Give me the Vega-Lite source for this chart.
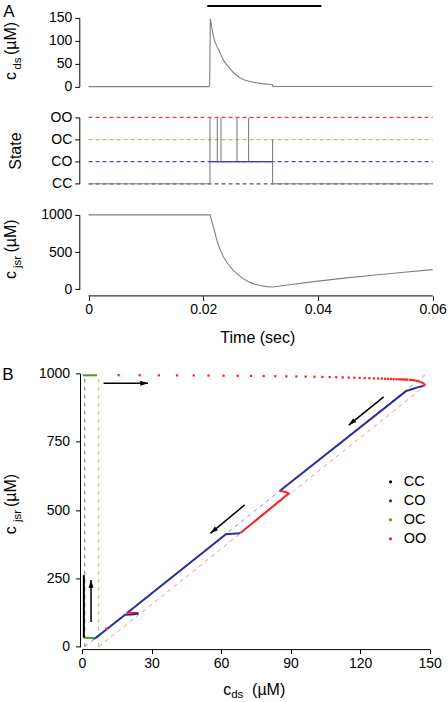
{
"$schema": "https://vega.github.io/schema/vega-lite/v6.json",
"background": "white",
"padding": {"left": 2, "top": 1.9, "right": 0, "bottom": 0},
"config": {
  "font": "Liberation Sans",
  "view": {"stroke": null},
  "axis": {"labelFont": "Liberation Sans", "labelFontSize": 14, "labelColor": "#000", "domainColor": "#000", "tickColor": "#000", "tickSize": 4.5, "grid": false, "labelFlush": false, "labelOverlap": false, "titleFont": "Liberation Sans", "titleFontWeight": "normal", "titleFontSize": 16, "titleColor": "#000", "labelPadding": 3},
  "text": {"font": "Liberation Sans", "color": "#000"}
},
"bounds": "full",
"spacing": 19.5,
"resolve": {"scale": {"x": "independent", "y": "independent", "color": "independent"}},
"vconcat": [
 {
  "bounds": "flush",
  "spacing": 30.5,
  "resolve": {"scale": {"x": "independent", "y": "independent", "color": "independent"}},
  "vconcat": [
   {
    "width": 350.6, "height": 68.7,
    "layer": [
     {"data": {"values": [
       {"t":0,"v":0},{"t":0.021,"v":0},{"t":0.02112,"v":3},{"t":0.02123,"v":148},{"t":0.0214,"v":135},{"t":0.02158,"v":122},{"t":0.0218,"v":108},{"t":0.0221,"v":96},{"t":0.02245,"v":86},{"t":0.0228,"v":77},{"t":0.02297,"v":72},{"t":0.0233,"v":63},{"t":0.02367,"v":55},{"t":0.024,"v":49},{"t":0.02437,"v":43},{"t":0.0247,"v":38},{"t":0.02506,"v":33},{"t":0.0255,"v":28},{"t":0.02588,"v":23.5},{"t":0.0261,"v":22.5},{"t":0.0263,"v":20},{"t":0.02663,"v":17.5},{"t":0.027,"v":15.5},{"t":0.02733,"v":14},{"t":0.028,"v":11.5},{"t":0.02873,"v":9.5},{"t":0.0295,"v":8},{"t":0.0303,"v":6.5},{"t":0.031,"v":5.5},{"t":0.0317,"v":5},{"t":0.03204,"v":4.5},{"t":0.03213,"v":0.5},{"t":0.035,"v":0.3},{"t":0.06,"v":0.3}
      ]},
      "mark": {"type": "line", "color": "#7f7f7f", "strokeWidth": 1.1},
      "encoding": {
       "x": {"field": "t", "type": "quantitative", "scale": {"domain": [-0.00115, 0.06], "nice": false, "zero": false}, "axis": null},
       "y": {"field": "v", "type": "quantitative", "scale": {"domain": [0, 150], "nice": false}, "axis": {"values": [0, 50, 100, 150], "tickCount": 10, "offset": 2.7, "title": null, "labelOverlap": false}}
      }},
     {"data": {"values": [{"t1": 0.0207, "t2": 0.0406}]},
      "mark": {"type": "rule", "color": "#000", "strokeWidth": 2},
      "encoding": {"x": {"field": "t1", "type": "quantitative"}, "x2": {"field": "t2"}, "y": {"datum": 176, "type": "quantitative"}}},
     {"data": {"values": [{}]}, "mark": {"type": "text", "text": "A", "fontSize": 17, "align": "left", "baseline": "alphabetic"},
      "encoding": {"x": {"datum": -0.01488, "type": "quantitative"}, "y": {"datum": 152.8, "type": "quantitative"}}},
     {"data": {"values": [{}]}, "mark": {"type": "text", "text": "c", "fontSize": 16, "angle": 270, "align": "left", "baseline": "alphabetic"},
      "encoding": {"x": {"datum": -0.01261, "type": "quantitative"}, "y": {"datum": 14.2, "type": "quantitative"}}},
     {"data": {"values": [{}]}, "mark": {"type": "text", "text": "ds", "fontSize": 11.5, "angle": 270, "align": "left", "baseline": "alphabetic"},
      "encoding": {"x": {"datum": -0.01183, "type": "quantitative"}, "y": {"datum": 37.1, "type": "quantitative"}}},
     {"data": {"values": [{}]}, "mark": {"type": "text", "text": "(µM)", "fontSize": 16, "angle": 270, "align": "left", "baseline": "alphabetic"},
      "encoding": {"x": {"datum": -0.01261, "type": "quantitative"}, "y": {"datum": 68.8, "type": "quantitative"}}}
    ]
   },
   {
    "width": 350.6, "height": 66.4,
    "layer": [
     {"data": {"values": [{"state": "CC", "s": 0, "t1": 0, "t2": 0.06}, {"state": "CO", "s": 1, "t1": 0, "t2": 0.06}, {"state": "OC", "s": 2, "t1": 0, "t2": 0.06}, {"state": "OO", "s": 3, "t1": 0, "t2": 0.06}]},
      "mark": {"type": "rule", "strokeDash": [4, 3], "strokeWidth": 1.2, "opacity": 1},
      "encoding": {
       "x": {"field": "t1", "type": "quantitative", "scale": {"domain": [-0.00115, 0.06], "nice": false, "zero": false}, "axis": null},
       "x2": {"field": "t2"},
       "y": {"field": "s", "type": "quantitative", "scale": {"domain": [0, 3], "nice": false}, "axis": {"values": [0, 1, 2, 3], "tickCount": 10, "labelExpr": "['CC','CO','OC','OO'][datum.value]", "offset": 2.7, "title": "State", "titlePadding": 27, "labelOverlap": false}},
       "color": {"field": "state", "type": "nominal", "scale": {"domain": ["CC", "CO", "OC", "OO"], "range": ["#555555", "#4a4ad0", "#9bd163", "#e8423c"]}, "legend": null}
      }},
     {"data": {"values": [
       {"o":1,"t":0,"s":0},{"o":2,"t":0.02117,"s":0},{"o":3,"t":0.02117,"s":3},{"o":4,"t":0.02117,"s":1},{"o":5,"t":0.02245,"s":1},{"o":6,"t":0.02245,"s":3},{"o":7,"t":0.02245,"s":1},{"o":8,"t":0.02309,"s":1},{"o":9,"t":0.02309,"s":3},{"o":10,"t":0.02309,"s":1},{"o":11,"t":0.02588,"s":1},{"o":12,"t":0.02588,"s":3},{"o":13,"t":0.02588,"s":1},{"o":14,"t":0.02791,"s":1},{"o":15,"t":0.02791,"s":3},{"o":16,"t":0.02791,"s":1},{"o":17,"t":0.03209,"s":1},{"o":18,"t":0.03209,"s":2},{"o":19,"t":0.03209,"s":0},{"o":20,"t":0.06,"s":0}
      ]},
      "mark": {"type": "line", "color": "#808080", "strokeWidth": 1.1},
      "encoding": {
       "x": {"field": "t", "type": "quantitative"},
       "y": {"field": "s", "type": "quantitative"},
       "order": {"field": "o", "type": "quantitative"}
      }},
     {"data": {"values": [{"t1": 0.02117, "t2": 0.03209}]},
      "mark": {"type": "rule", "color": "#4040c4", "strokeWidth": 1.3},
      "encoding": {"x": {"field": "t1", "type": "quantitative"}, "x2": {"field": "t2"}, "y": {"datum": 1, "type": "quantitative"}}}
    ]
   },
   {
    "width": 350.6, "height": 74.4,
    "layer": [
     {"data": {"values": [
       {"t":0,"v":1000},{"t":0.02118,"v":1000},{"t":0.0214,"v":940},{"t":0.0216,"v":880},{"t":0.0218,"v":830},{"t":0.0221,"v":740},{"t":0.0224,"v":654},{"t":0.0228,"v":560},{"t":0.02355,"v":430},{"t":0.0244,"v":330},{"t":0.0253,"v":251},{"t":0.0262,"v":190},{"t":0.02703,"v":140},{"t":0.0279,"v":103},{"t":0.02878,"v":73},{"t":0.0299,"v":50},{"t":0.03112,"v":36},{"t":0.0321,"v":30},{"t":0.035,"v":62},{"t":0.04,"v":110},{"t":0.045,"v":153},{"t":0.05,"v":193},{"t":0.055,"v":230},{"t":0.06,"v":265}
      ]},
      "mark": {"type": "line", "color": "#7f7f7f", "strokeWidth": 1.1},
      "encoding": {
       "x": {"field": "t", "type": "quantitative", "scale": {"domain": [-0.00115, 0.06], "nice": false, "zero": false}, "axis": {"values": [0, 0.02, 0.04, 0.06], "tickCount": 10, "labelExpr": "datum.value == 0 ? '0' : format(datum.value, '.2f')", "offset": 6.6, "domain": false, "labelPadding": 2, "title": "Time (sec)", "titlePadding": 13}},
       "y": {"field": "v", "type": "quantitative", "scale": {"domain": [0, 1000], "nice": false}, "axis": {"values": [0, 500, 1000], "tickCount": 10, "labelExpr": "format(datum.value, 'd')", "offset": 2.7, "title": null, "labelOverlap": false}}
      }},
     {"data": {"values": [{"t1": 0, "t2": 0.06}]},
      "mark": {"type": "rule", "color": "#000", "strokeWidth": 1},
      "encoding": {"x": {"field": "t1", "type": "quantitative"}, "x2": {"field": "t2"}, "y": {"datum": -88.7, "type": "quantitative"}}},
     {"data": {"values": [{}]}, "mark": {"type": "text", "text": "c", "fontSize": 16, "angle": 270, "align": "left", "baseline": "alphabetic"},
      "encoding": {"x": {"datum": -0.01261, "type": "quantitative"}, "y": {"datum": 137, "type": "quantitative"}}},
     {"data": {"values": [{}]}, "mark": {"type": "text", "text": "jsr", "fontSize": 11.5, "angle": 270, "align": "left", "baseline": "alphabetic"},
      "encoding": {"x": {"datum": -0.01183, "type": "quantitative"}, "y": {"datum": 285, "type": "quantitative"}}},
     {"data": {"values": [{}]}, "mark": {"type": "text", "text": "(µM)", "fontSize": 16, "angle": 270, "align": "left", "baseline": "alphabetic"},
      "encoding": {"x": {"datum": -0.01261, "type": "quantitative"}, "y": {"datum": 493, "type": "quantitative"}}}
    ]
   }
  ]
 },
 {
  "width": 347.6, "height": 273.4,
  "resolve": {"scale": {"color": "independent"}},
  "layer": [
   {"data": {"values": [
     {"ref":"CC","cds":1.2,"cjsr":0},{"ref":"CC","cds":1.2,"cjsr":990},
     {"ref":"OC","cds":7.2,"cjsr":0},{"ref":"OC","cds":7.2,"cjsr":990},
     {"ref":"CO","cds":1.2,"cjsr":0},{"ref":"CO","cds":147.9,"cjsr":994},
     {"ref":"OO","cds":7.2,"cjsr":0},{"ref":"OO","cds":150.3,"cjsr":970}
    ]},
    "mark": {"type": "line", "strokeDash": [4, 4], "strokeWidth": 1},
    "encoding": {
     "x": {"field": "cds", "type": "quantitative", "scale": {"domain": [0, 150], "nice": false, "zero": false}, "axis": {"values": [0, 30, 60, 90, 120, 150], "tickCount": 10, "offset": 2.3, "title": null, "labelOverlap": false}},
     "y": {"field": "cjsr", "type": "quantitative", "scale": {"domain": [0, 1000], "nice": false}, "axis": {"values": [0, 250, 500, 750, 1000], "tickCount": 10, "labelExpr": "format(datum.value, 'd')", "offset": 2, "title": null, "labelPadding": 6, "labelOverlap": false}},
     "detail": {"field": "ref"},
     "color": {"field": "ref", "type": "nominal", "scale": {"domain": ["CC", "CO", "OC", "OO"], "range": ["#777777", "#8c8cea", "#9fd06c", "#f39090"]}, "legend": null}
    }},
   {"data": {"values": [
     {"seg":1,"o":1,"state":"OC","cds":0.3,"cjsr":993},{"seg":1,"o":2,"state":"OC","cds":6.5,"cjsr":993},
     {"seg":2,"o":1,"state":"OO","cds":140.9,"cjsr":977},{"seg":2,"o":2,"state":"OO","cds":142.6,"cjsr":975.5},{"seg":2,"o":3,"state":"OO","cds":144.4,"cjsr":973},{"seg":2,"o":4,"state":"OO","cds":146.1,"cjsr":969},{"seg":2,"o":5,"state":"OO","cds":147.3,"cjsr":964},{"seg":2,"o":6,"state":"OO","cds":147.8,"cjsr":958.5},{"seg":2,"o":7,"state":"OO","cds":147.2,"cjsr":954},
     {"seg":3,"o":1,"state":"CO","cds":147.2,"cjsr":954},{"seg":3,"o":2,"state":"CO","cds":144.8,"cjsr":949},{"seg":3,"o":3,"state":"CO","cds":142.3,"cjsr":942},{"seg":3,"o":4,"state":"CO","cds":139.8,"cjsr":935},{"seg":3,"o":5,"state":"CO","cds":85.3,"cjsr":570},
     {"seg":4,"o":1,"state":"OO","cds":85.3,"cjsr":570},{"seg":4,"o":2,"state":"OO","cds":87.6,"cjsr":567},{"seg":4,"o":3,"state":"OO","cds":89.2,"cjsr":561},{"seg":4,"o":4,"state":"OO","cds":68.2,"cjsr":415},
     {"seg":5,"o":1,"state":"CO","cds":68.2,"cjsr":415},{"seg":5,"o":2,"state":"CO","cds":65,"cjsr":413.5},{"seg":5,"o":3,"state":"CO","cds":62.1,"cjsr":412},{"seg":5,"o":4,"state":"CO","cds":19.3,"cjsr":123},
     {"seg":6,"o":1,"state":"OO","cds":19.3,"cjsr":124.5},{"seg":6,"o":2,"state":"OO","cds":24,"cjsr":123.5},{"seg":6,"o":3,"state":"OO","cds":24.3,"cjsr":120.5},
     {"seg":7,"o":1,"state":"CO","cds":24.3,"cjsr":120.5},{"seg":7,"o":2,"state":"CO","cds":21.5,"cjsr":118.5},{"seg":7,"o":3,"state":"CO","cds":18.6,"cjsr":117},{"seg":7,"o":4,"state":"CO","cds":10.4,"cjsr":62.5},
     {"seg":8,"o":1,"state":"OO","cds":10,"cjsr":66.5},{"seg":8,"o":2,"state":"OO","cds":11.2,"cjsr":65.5},
     {"seg":9,"o":1,"state":"CO","cds":10.4,"cjsr":62.5},{"seg":9,"o":2,"state":"CO","cds":5.7,"cjsr":31},{"seg":9,"o":3,"state":"CO","cds":4.6,"cjsr":30},
     {"seg":10,"o":1,"state":"OC","cds":5.4,"cjsr":32},{"seg":10,"o":2,"state":"OC","cds":0.8,"cjsr":33.5},
     {"seg":11,"o":1,"state":"CC","cds":0.8,"cjsr":33.5},{"seg":11,"o":2,"state":"CC","cds":0.8,"cjsr":262}
    ]},
    "mark": {"type": "line", "strokeWidth": 2},
    "encoding": {
     "x": {"field": "cds", "type": "quantitative"},
     "y": {"field": "cjsr", "type": "quantitative"},
     "detail": {"field": "seg"},
     "order": {"field": "o", "type": "quantitative"},
     "color": {"field": "state", "type": "nominal", "scale": {"domain": ["CC", "CO", "OC", "OO"], "range": ["#000000", "#2b2b9e", "#4c9a2a", "#ff1f1f"]},
      "legend": {"title": null, "orient": "none", "legendX": 301.3, "legendY": 101.2, "symbolType": "circle", "symbolSize": 3, "symbolStrokeWidth": 1.5, "labelFontSize": 14.5, "labelFont": "Liberation Sans", "labelColor": "#000", "labelOffset": 6, "rowPadding": 4, "padding": 0}}
    }},
   {"data": {"values": [
     {"cds":15.8,"cjsr":993.5},{"cds":24.9,"cjsr":993.3},{"cds":33.2,"cjsr":993},{"cds":41,"cjsr":992.7},{"cds":48.2,"cjsr":992.4},{"cds":54.6,"cjsr":992},{"cds":61.1,"cjsr":991.6},{"cds":67.2,"cjsr":991.2},{"cds":72.9,"cjsr":990.8},{"cds":78.4,"cjsr":990.3},{"cds":83.4,"cjsr":989.8},{"cds":88.2,"cjsr":989.3},{"cds":92.5,"cjsr":988.8},{"cds":96.5,"cjsr":988.3},{"cds":100.3,"cjsr":987.7},{"cds":103.7,"cjsr":987.1},{"cds":106.9,"cjsr":986.6},{"cds":109.7,"cjsr":986},{"cds":112.5,"cjsr":985.4},{"cds":115.1,"cjsr":984.8},{"cds":117.5,"cjsr":984.2},{"cds":119.8,"cjsr":983.6},{"cds":122,"cjsr":983},{"cds":124,"cjsr":982.4},{"cds":126,"cjsr":981.8},{"cds":127.8,"cjsr":981.3},{"cds":129.4,"cjsr":980.8},{"cds":130.8,"cjsr":980.3},{"cds":132.1,"cjsr":979.9},{"cds":133.4,"cjsr":979.5},{"cds":134.5,"cjsr":979.1},{"cds":135.7,"cjsr":978.7},{"cds":136.7,"cjsr":978.3},{"cds":137.7,"cjsr":978},{"cds":138.6,"cjsr":977.7},{"cds":139.5,"cjsr":977.4},{"cds":140.2,"cjsr":977.2}
    ]},
    "mark": {"type": "point", "shape": "square", "filled": true, "size": 5, "color": "#ff1f1f", "opacity": 1},
    "encoding": {"x": {"field": "cds", "type": "quantitative"}, "y": {"field": "cjsr", "type": "quantitative"}}},
   {"data": {"name": "arrows", "values": [
     {"x1":9.3,"y1":964,"x2":28.5,"y2":964,"dir":"right"},
     {"x1":130.2,"y1":914,"x2":115.1,"y2":811,"dir":"dl"},
     {"x1":70.2,"y1":519,"x2":55.4,"y2":415,"dir":"dl"},
     {"x1":3.9,"y1":91,"x2":3.9,"y2":244,"dir":"up"}
    ]},
    "layer": [
     {"mark": {"type": "rule", "color": "#000", "strokeWidth": 1.5},
      "encoding": {"x": {"field": "x1", "type": "quantitative"}, "y": {"field": "y1", "type": "quantitative"}, "x2": {"field": "x2"}, "y2": {"field": "y2"}}},
     {"transform": [{"filter": "datum.dir == 'right'"}],
      "mark": {"type": "point", "shape": "M0,0L-1.1,0.35L-1.1,-0.35Z", "filled": true, "color": "#000", "size": 200, "opacity": 1},
      "encoding": {"x": {"field": "x2", "type": "quantitative"}, "y": {"field": "y2", "type": "quantitative"}}},
     {"transform": [{"filter": "datum.dir == 'up'"}],
      "mark": {"type": "point", "shape": "M0,0L0.35,1.1L-0.35,1.1Z", "filled": true, "color": "#000", "size": 200, "opacity": 1},
      "encoding": {"x": {"field": "x2", "type": "quantitative"}, "y": {"field": "y2", "type": "quantitative"}}},
     {"transform": [{"filter": "datum.dir == 'dl'"}],
      "mark": {"type": "point", "shape": "M0,0L0.35,1.1L-0.35,1.1Z", "filled": true, "color": "#000", "size": 200, "opacity": 1, "angle": 231},
      "encoding": {"x": {"field": "x2", "type": "quantitative"}, "y": {"field": "y2", "type": "quantitative"}}}
    ]},
   {"data": {"values": [{}]}, "mark": {"type": "text", "text": "B", "fontSize": 17, "align": "left", "baseline": "alphabetic"},
    "encoding": {"x": {"datum": -34.4, "type": "quantitative"}, "y": {"datum": 975.5, "type": "quantitative"}}},
   {"data": {"values": [{}]}, "mark": {"type": "text", "text": "c", "fontSize": 16, "angle": 270, "align": "left", "baseline": "alphabetic"},
    "encoding": {"x": {"datum": -28.4, "type": "quantitative"}, "y": {"datum": 412, "type": "quantitative"}}},
   {"data": {"values": [{}]}, "mark": {"type": "text", "text": "jsr", "fontSize": 11.5, "angle": 270, "align": "left", "baseline": "alphabetic"},
    "encoding": {"x": {"datum": -26.4, "type": "quantitative"}, "y": {"datum": 456, "type": "quantitative"}}},
   {"data": {"values": [{}]}, "mark": {"type": "text", "text": "(µM)", "fontSize": 16, "angle": 270, "align": "left", "baseline": "alphabetic"},
    "encoding": {"x": {"datum": -28.4, "type": "quantitative"}, "y": {"datum": 511, "type": "quantitative"}}},
   {"data": {"values": [{}]}, "mark": {"type": "text", "text": "c", "fontSize": 16, "align": "left", "baseline": "alphabetic"},
    "encoding": {"x": {"datum": 60.9, "type": "quantitative"}, "y": {"datum": -176.7, "type": "quantitative"}}},
   {"data": {"values": [{}]}, "mark": {"type": "text", "text": "ds", "fontSize": 11.5, "align": "left", "baseline": "alphabetic"},
    "encoding": {"x": {"datum": 64.4, "type": "quantitative"}, "y": {"datum": -188.5, "type": "quantitative"}}},
   {"data": {"values": [{}]}, "mark": {"type": "text", "text": "(µM)", "fontSize": 16, "align": "left", "baseline": "alphabetic"},
    "encoding": {"x": {"datum": 73.4, "type": "quantitative"}, "y": {"datum": -176.7, "type": "quantitative"}}}
  ]
 }
]
}
